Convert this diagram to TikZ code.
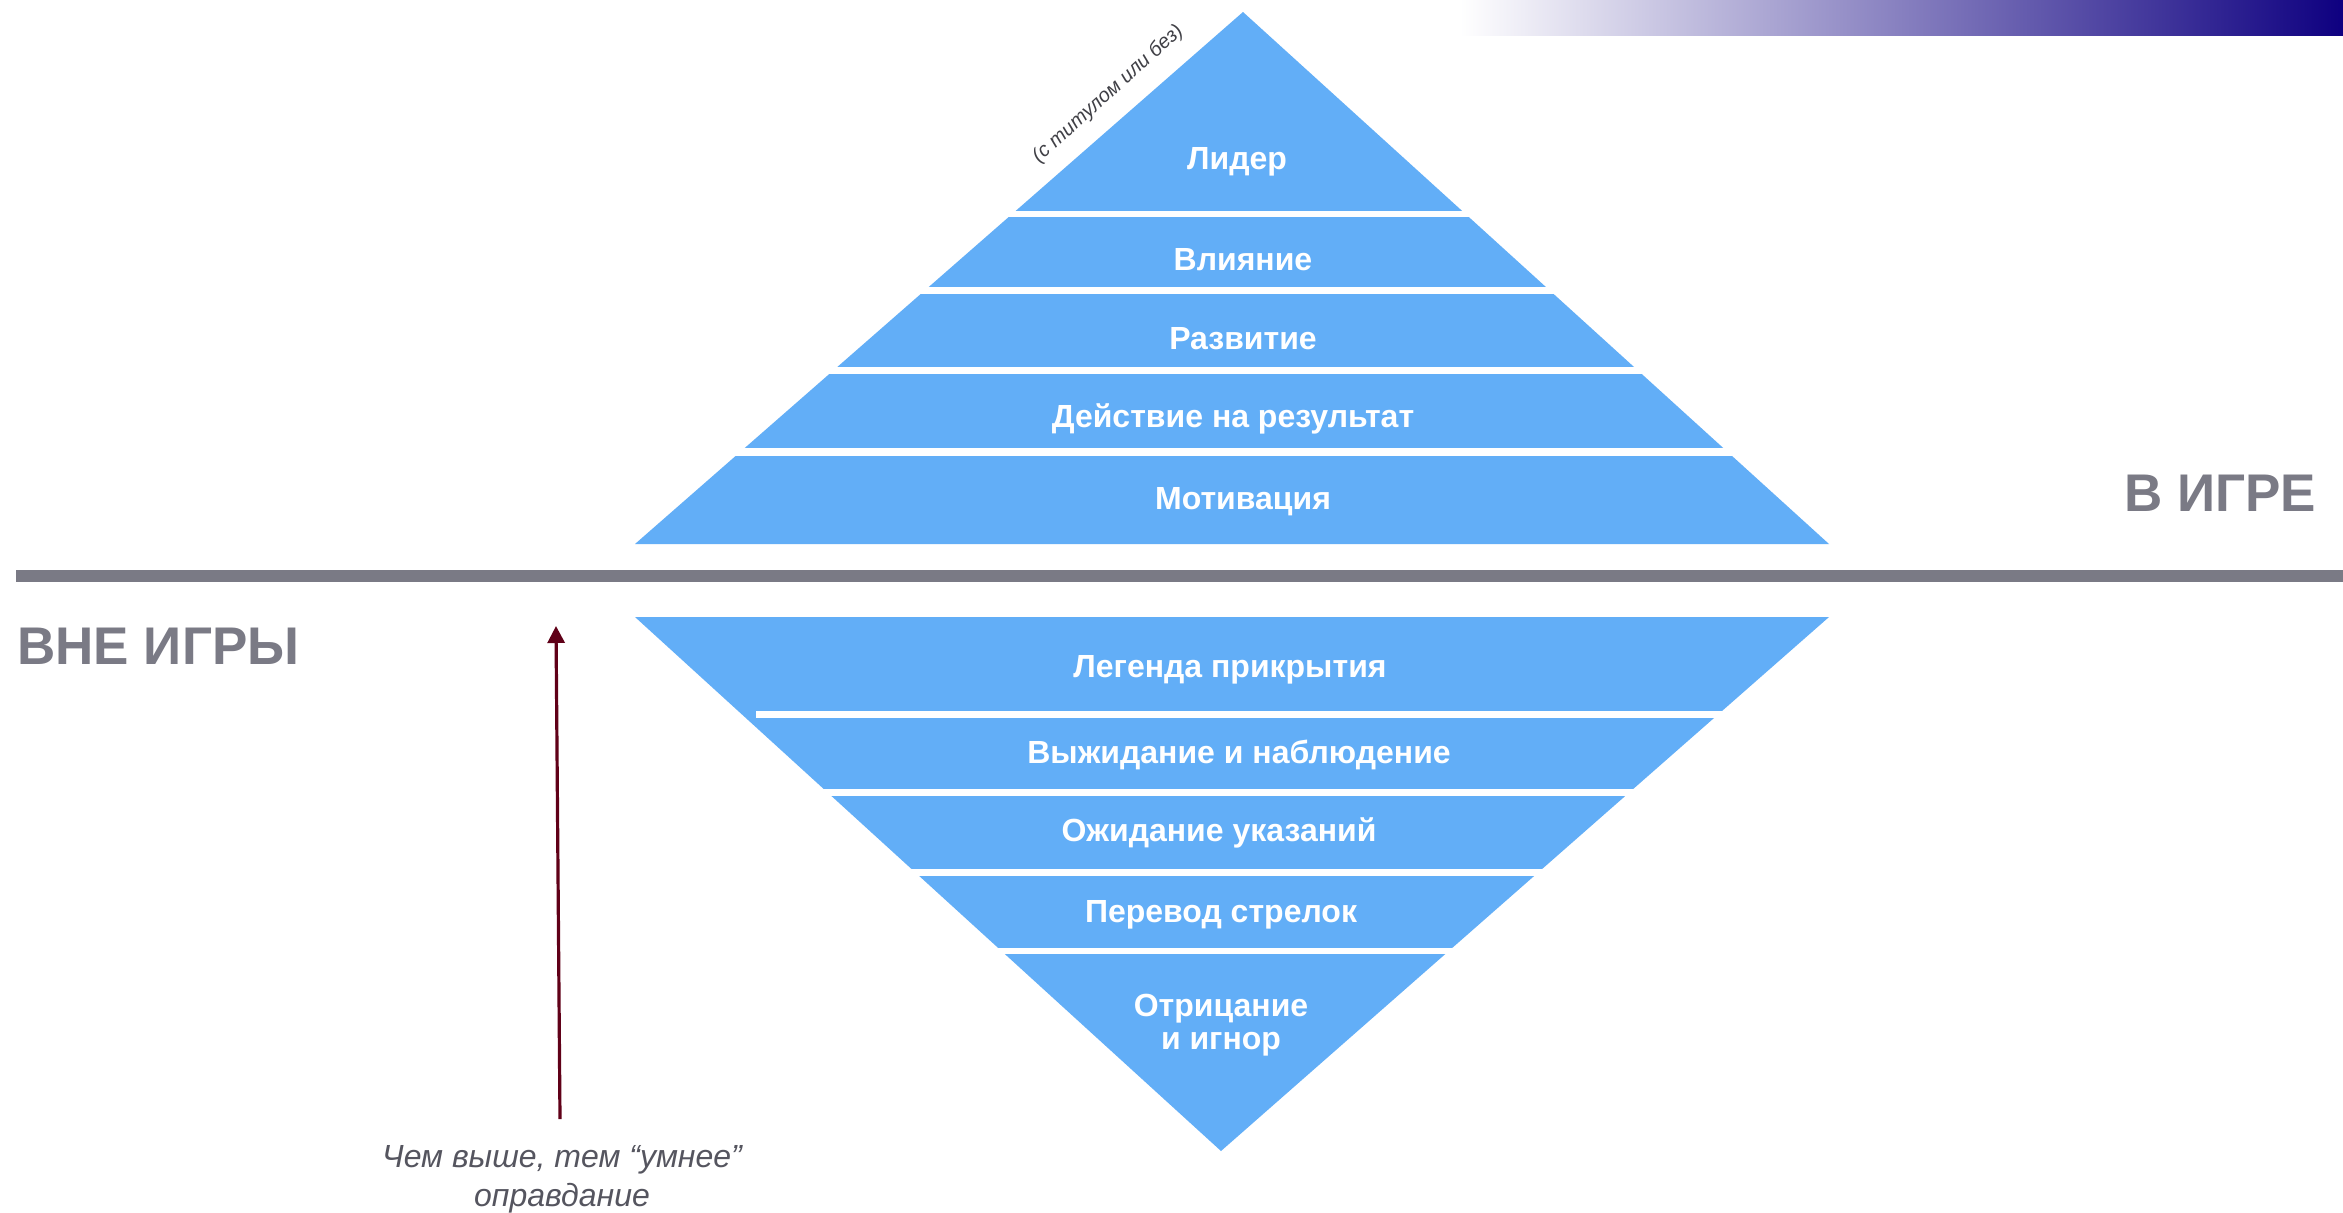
\documentclass[tikz,border=0pt]{standalone}
\usepackage{fontspec}
\setmainfont{Liberation Sans}
\usetikzlibrary{arrows.meta}
\definecolor{pyrblue}{RGB}{98,174,247}
\definecolor{labgray}{RGB}{122,122,133}
\definecolor{notegray}{RGB}{85,85,95}
\definecolor{titlegray}{RGB}{64,64,70}
\definecolor{arrowred}{RGB}{96,0,24}
\definecolor{navyend}{RGB}{14,0,128}
\begin{document}
\begin{tikzpicture}[x=0.5pt,y=-0.5pt,
  bandlabel/.style={font=\fontsize{16}{16.5}\selectfont\bfseries, text=white, inner sep=0pt},
  sidelabel/.style={font=\fontsize{26.5}{30}\selectfont\bfseries, text=labgray, inner sep=0pt},
  gapstripe/.style={fill=white}]
\useasboundingbox (0,0) rectangle (2343,1212);
\fill[white] (0,0) rectangle (2343,1212);
% gradient bar
\shade[left color=white, right color=navyend] (1460,0) rectangle (2343,35);
% top pyramid
\fill[pyrblue] (1243,12) -- (1829,544) -- (635,544) -- cycle;
\foreach \a/\b in {211/217,287/294,367/374,448/456}
  \fill[gapstripe] (600,\a) rectangle (1880,\b);
% bottom pyramid
\fill[pyrblue] (635,617) -- (1829,617) -- (1221,1151) -- cycle;
\fill[gapstripe] (756,711) rectangle (1880,718);
\foreach \a/\b in {789/796,869/876,948/954}
  \fill[gapstripe] (600,\a) rectangle (1880,\b);
% divider
\fill[labgray] (16,570) rectangle (2343,582);
% labels in top pyramid
\node[bandlabel, anchor=base] (lider) at (1237,169) {Лидер};
\node[bandlabel, anchor=base] (vliyanie) at (1243,270) {Влияние};
\node[bandlabel, anchor=base] (razvitie) at (1243,349) {Развитие};
\node[bandlabel, anchor=base] (deystvie) at (1233,427) {Действие на результат};
\node[bandlabel, anchor=base] (motivaciya) at (1243,509) {Мотивация};
% labels in bottom pyramid
\node[bandlabel, anchor=base] (legenda) at (1230,677) {Легенда прикрытия};
\node[bandlabel, anchor=base] (vyzhidanie) at (1239,763) {Выжидание и наблюдение};
\node[bandlabel, anchor=base] (ozhidanie) at (1219,841) {Ожидание указаний};
\node[bandlabel, anchor=base] (perevod) at (1221,922) {Перевод стрелок};
\node[bandlabel, align=center, anchor=north] (otricanie) at (1221,994) {Отрицание\\и игнор};
% rotated note at apex
\node[rotate=42, inner sep=0pt, font=\fontsize{10}{12}\selectfont\itshape, text=titlegray] (titul) at (1108,94) {(с титулом или без)};
% side labels
\node[sidelabel, anchor=base west] (vigre) at (2124,511) {В ИГРЕ};
\node[sidelabel, anchor=base west] (vneigry) at (17,664) {ВНЕ ИГРЫ};
% arrow and note
\node[align=center, inner sep=0pt, font=\fontsize{16}{19.5}\selectfont\itshape, text=notegray, anchor=north] (note) at (562,1145) {Чем выше, тем “умнее”\\оправдание};
\coordinate (arrowfoot) at (560,1119);
\coordinate (arrowtip) at (556,626);
\draw[arrowred, line width=1.6pt, -{Triangle[width=8.5pt,length=8.5pt]}] (arrowfoot) -- (arrowtip);
\end{tikzpicture}
\end{document}
